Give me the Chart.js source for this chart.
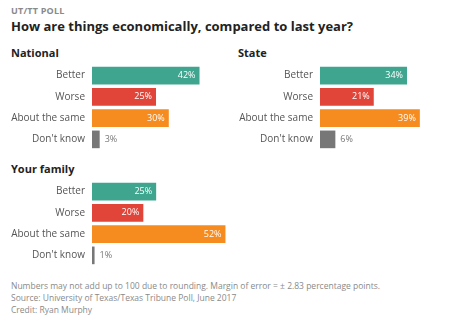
<!DOCTYPE html>
<html>
<head>
<meta charset="utf-8">
<script src="https://cdn.jsdelivr.net/npm/chart.js@4.4.1/dist/chart.umd.min.js"></script>
<style>
  html, body { margin: 0; padding: 0; background: #fff; }
  body { width: 474px; height: 327px; position: relative; overflow: hidden; font-family: "Open Sans", sans-serif; }
  .abs { position: absolute; white-space: nowrap; }
  .kicker { left: 11px; top: 4px; font-size: 9px; font-weight: 700; color: #8a8a8a; letter-spacing: 0.2px; }
  .title { left: 11px; top: 17px; font-size: 13px; font-weight: 700; color: #222; }
  .group { font-size: 11px; font-weight: 700; color: #222; }
  .note { left: 11px; font-size: 8.5px; color: #8a8a8a; }
  .box { position: absolute; }
</style>
</head>
<body>
<div class="abs kicker">UT/TT POLL</div>
<div class="abs title">How are things economically, compared to last year?</div>
<div class="abs group" style="left:11px;top:45px;">National</div>
<div class="abs group" style="left:238px;top:45px;">State</div>
<div class="abs group" style="left:11px;top:161px;">Your family</div>

<div class="box" style="left:0;top:65px;"><canvas id="nationalChart" width="220" height="85"></canvas></div>
<div class="box" style="left:230px;top:65px;"><canvas id="stateChart" width="218" height="85"></canvas></div>
<div class="box" style="left:0;top:181px;"><canvas id="familyChart" width="246" height="85"></canvas></div>

<div class="abs note" style="top:280px;">Numbers may not add up to 100 due to rounding. Margin of error = ± 2.83 percentage points.</div>
<div class="abs note" style="top:292px;">Source: University of Texas/Texas Tribune Poll, June 2017</div>
<div class="abs note" style="top:304px;">Credit: Ryan Murphy</div>

<script>
  const categories = ['Better', 'Worse', 'About the same', "Don't know"];
  const nationalValues = [42, 25, 30, 3];
  const stateValues = [34, 21, 39, 6];
  const familyValues = [25, 20, 52, 1];
  const barColors = ['#3fa58f', '#e1453a', '#f68b1f', '#777777'];

  const valueLabels = {
    id: 'valueLabels',
    afterDatasetsDraw(chart) {
      const ctx = chart.ctx;
      const meta = chart.getDatasetMeta(0);
      const values = chart.data.datasets[0].data;
      ctx.save();
      ctx.font = '9px "Open Sans", sans-serif';
      ctx.textBaseline = 'middle';
      meta.data.forEach((bar, i) => {
        const text = values[i] + '%';
        if (bar.x - bar.base > 24) {
          ctx.fillStyle = '#ffffff';
          ctx.textAlign = 'right';
          ctx.fillText(text, bar.x - 4, bar.y);
        } else {
          ctx.fillStyle = '#777777';
          ctx.textAlign = 'left';
          ctx.fillText(text, bar.x + 5, bar.y);
        }
      });
      ctx.restore();
    }
  };

  function makeChart(id, values, max, axisWidth) {
    return new Chart(document.getElementById(id), {
      type: 'bar',
      data: {
        labels: categories,
        datasets: [{
          data: values,
          backgroundColor: barColors,
          borderWidth: 0,
          categoryPercentage: 1,
          barPercentage: 0.83
        }]
      },
      options: {
        indexAxis: 'y',
        responsive: false,
        animation: false,
        layout: { padding: 0 },
        plugins: { legend: { display: false }, tooltip: { enabled: false } },
        scales: {
          x: { display: false, min: 0, max: max },
          y: {
            grid: { display: false, drawTicks: false },
            border: { display: false },
            ticks: { color: '#555', padding: 7, font: { family: '"Open Sans", sans-serif', size: 10 } },
            afterFit: (scale) => {
              scale.width = axisWidth;
              scale.paddingTop = 0;
              scale.paddingBottom = 0;
            }
          }
        }
      },
      plugins: [valueLabels]
    });
  }

  makeChart('nationalChart', nationalValues, 50, 92);
  makeChart('stateChart', stateValues, 50, 90);
  makeChart('familyChart', familyValues, 60, 92);
</script>
</body>
</html>
